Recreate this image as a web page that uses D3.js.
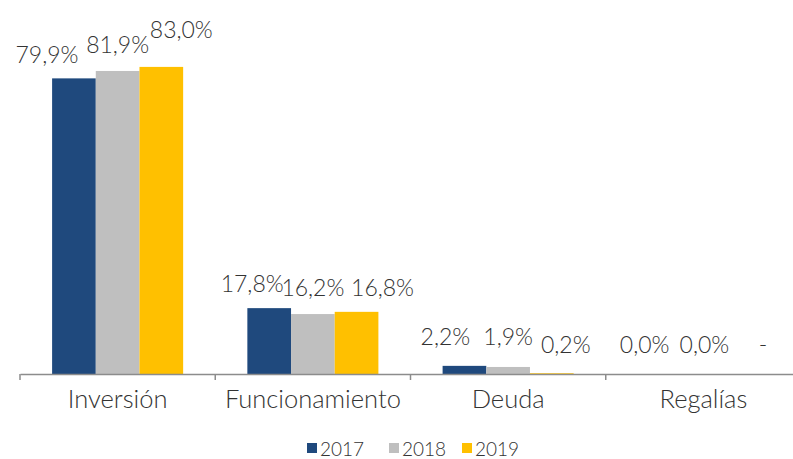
<!DOCTYPE html>
<html>
<head>
<meta charset="utf-8">
<script src="https://cdn.jsdelivr.net/npm/d3@7"></script>
<style>
  body { margin: 0; background: #fff; }
  svg text { font-family: Lato, "Open Sans", sans-serif; font-weight: 300; fill: #333; }
</style>
</head>
<body>
<div id="chart"></div>
<script>
// data
const categories = ["Inversión", "Funcionamiento", "Deuda", "Regalías"]
const years = ["2017", "2018", "2019"]
const inversion = [79.9, 81.9, 83.0]
const funcionamiento = [17.8, 16.2, 16.8]
const deuda = [2.2, 1.9, 0.2]
const regalias = [0.0, 0.0, null]
const colors = ["#1F497D", "#BFBFBF", "#FFC000"]

// label nudges (Excel moved some labels by hand)
const labelNudge = [
    [[-27, -7], [0, -10], [20, -21]],
    [[-17, -8], [0, -10], [26, -8]],
    [[-19, -13], [0, -14], [14, -12]],
    [[-15, -13], [1, -13], [16, -13]]
]

const seriesByCat = [inversion, funcionamiento, deuda, regalias]

const width = 793, height = 459
const svg = d3.select("#chart").append("svg")
    .attr("width", width).attr("height", height)

let x0 = d3.scaleBand().domain(categories).range([20, 801]).paddingInner(0).paddingOuter(0)
let x1 = d3.scaleBand().domain(years).range([0, x0.bandwidth()]).paddingInner(0).paddingOuter(0.735)
let y = d3.scaleLinear().domain([0, 100]).range([374, 4])

let fmt = function(v){
    if (v === null) return "-"
    return v.toFixed(1).replace(".", ",") + "%"
}

categories.forEach(function(cat, ci){
    let g = svg.append("g").attr("transform", `translate(${x0(cat)},0)`)
    let vals = seriesByCat[ci]
    g.selectAll("rect")
        .data(vals)
        .join("rect")
        .attr("x", (d, i) => x1(years[i]))
        .attr("y", d => y(d || 0))
        .attr("width", x1.bandwidth())
        .attr("height", d => y(0) - y(d || 0))
        .attr("fill", (d, i) => colors[i])

    g.selectAll("text.lbl")
        .data(vals)
        .join("text")
        .attr("class", "lbl")
        .attr("x", (d, i) => x1(years[i]) + x1.bandwidth()/2 + labelNudge[ci][i][0])
        .attr("y", (d, i) => y(d || 0) - 8 + labelNudge[ci][i][1])
        .attr("text-anchor", "middle")
        .style("font-size", "23px")
        .text(d => fmt(d))
})

// axis
let axis = svg.append("g").attr("transform", `translate(0,${y(0)})`)
    .call(d3.axisBottom(x0).tickSize(0).tickPadding(14))
axis.select(".domain").attr("stroke", "#8c8c8c").attr("stroke-width", 1.5)
axis.selectAll(".tick text").style("font-size", "25.5px").attr("dy", "0.8em")

let bounds = categories.map(c => x0(c)).concat([x0.range()[1]])
axis.selectAll("line.sep")
    .data(bounds)
    .join("line")
    .attr("class", "sep")
    .attr("x1", d => d).attr("x2", d => d)
    .attr("y1", 0).attr("y2", 6)
    .attr("stroke", "#8c8c8c").attr("stroke-width", 1.5)

// legend
const legendX = [307, 389, 462]
let legend = svg.append("g")
years.forEach(function(yr, i){
    legend.append("rect").attr("x", legendX[i]).attr("y", 443)
        .attr("width", 10).attr("height", 10).attr("fill", colors[i])
    legend.append("text").attr("x", legendX[i] + 13).attr("y", 456)
        .style("font-size", "19px").text(yr)
})
</script>
</body>
</html>
